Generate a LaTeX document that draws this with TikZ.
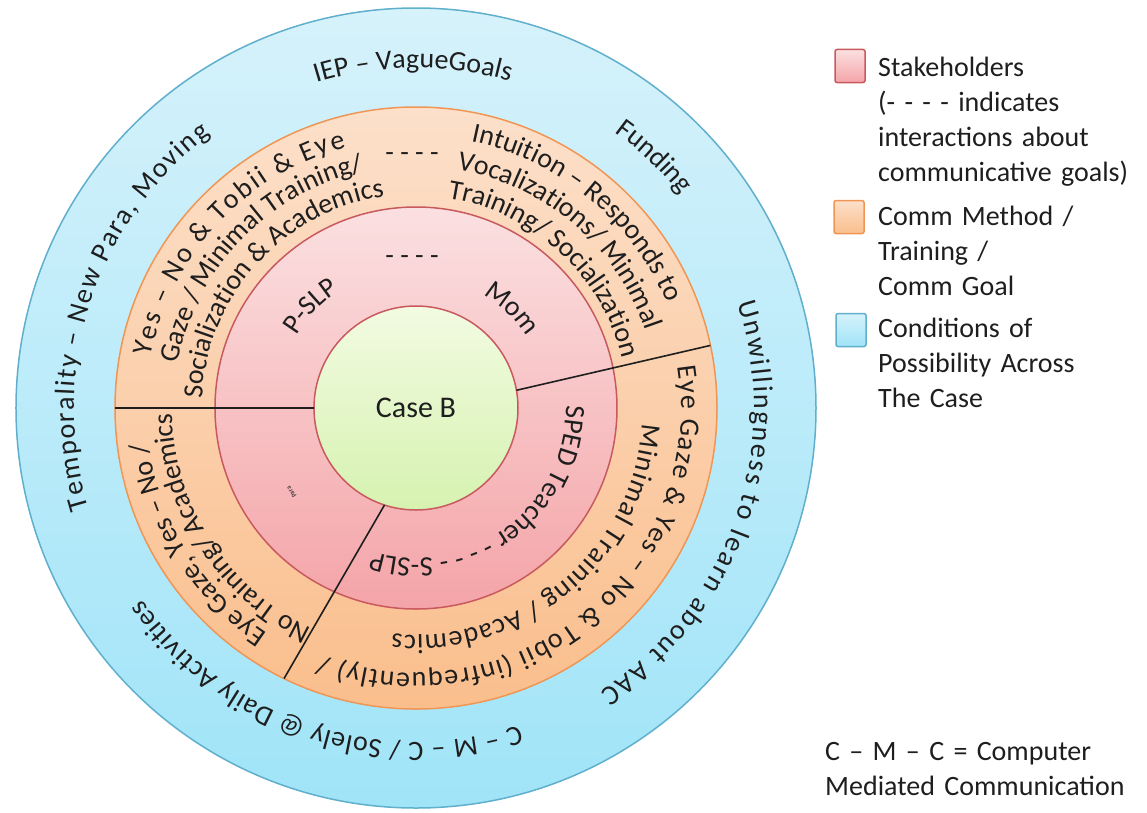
\documentclass[tikz,border=0pt]{standalone}
\usepackage{fontspec}
\setmainfont{Carlito}
\usetikzlibrary{positioning,decorations.text}

\definecolor{condtop}{RGB}{214,242,251}
\definecolor{condbot}{RGB}{160,228,248}
\definecolor{condline}{RGB}{95,175,205}
\definecolor{commtop}{RGB}{252,224,202}
\definecolor{commbot}{RGB}{250,190,140}
\definecolor{commline}{RGB}{240,150,85}
\definecolor{holdtop}{RGB}{251,224,225}
\definecolor{holdbot}{RGB}{244,164,168}
\definecolor{holdline}{RGB}{200,90,95}
\definecolor{casetop}{RGB}{242,251,226}
\definecolor{casebot}{RGB}{214,242,176}
\definecolor{ink}{RGB}{30,30,30}

\newcommand{\ringfont}{\fontsize{28}{34}\selectfont}
\newcommand{\parafont}{\fontsize{7}{8}\selectfont}

\begin{document}
\begin{tikzpicture}[x=1pt, y=1pt,
    ring/.style={circle, inner sep=0pt, outer sep=0pt, line width=1.5pt},
    divider/.style={line width=1.6pt, draw=ink},
    curved/.style={decorate, decoration={text along path, text align=center, text color=ink, text={|\ringfont|#1}}},
    fitted/.style={decorate, decoration={text along path, text align={fit to path}, text color=ink, text={|\ringfont|#1}}},
    keybox/.style={rounded corners=2pt, minimum width=30pt, minimum height=33pt, inner sep=0pt, line width=1.5pt},
    keytext/.style={anchor=base west, text width=265pt, align=left, inner sep=0pt, text=ink, font=\fontsize{28}{35}\selectfont}
  ]
  \useasboundingbox (-416,-404) rectangle (731,408);

  % rings
  \node[ring, minimum size=800pt, draw=condline, top color=condtop, bottom color=condbot] (cond) at (0,0) {};
  \node[ring, minimum size=602pt, draw=commline, top color=commtop, bottom color=commbot] (comm) at (0,0) {};
  \node[ring, minimum size=402pt, draw=holdline, top color=holdtop, bottom color=holdbot] (hold) at (0,0) {};
  \node[ring, minimum size=204pt, draw=holdline, top color=casetop, bottom color=casebot, text=ink, font=\fontsize{30}{36}\selectfont] (case) at (0,0) {Case B};

  \draw[divider] (case.180) -- (comm.180);
  \draw[divider] (case.10) -- (comm.12);
  \draw[divider] (case.-108) -- (comm.-116);

  % conditions of possibility
  \path[curved={IEP – VagueGoals}] (121:340pt) arc[start angle=121, end angle=60, radius=340pt];
  \path[curved={Funding}] (67:340pt) arc[start angle=67, end angle=26, radius=340pt];
  \path[fitted={Unwillingness to learn about AAC}] (18:338pt) arc[start angle=18, end angle=-57, radius=338pt];
  \path[fitted={C – M – C / Solely @ Daily Activities}] (-72:334pt) arc[start angle=-72, end angle=-145, radius=334pt];
  \path[fitted={Temporality – New Para, Moving}] (197:342pt) arc[start angle=197, end angle=127, radius=342pt];

  % comm method / training / goal
  \path[fitted={Yes – No {\&} Tobii {\&} Eye}] (169:270pt) arc[start angle=169, end angle=105, radius=270pt];
  \path[curved={Gaze / Minimal Training/}] (178:242pt) arc[start angle=178, end angle=94, radius=242pt];
  \path[curved={Socialization {\&} Academics}] (183:214pt) arc[start angle=183, end angle=93, radius=214pt];
  \path[curved={Intuition – Responds to}] (91:272pt) arc[start angle=91, end angle=10, radius=272pt];
  \path[curved={Vocalizations/ Minimal}] (90:242pt) arc[start angle=90, end angle=9, radius=242pt];
  \path[curved={Training/ Socialization}] (90:212pt) arc[start angle=90, end angle=5, radius=212pt];
  \path[fitted={Eye Gaze {\&} Yes – No {\&} Tobii (infrequently) /}] (9:265pt) arc[start angle=9, end angle=-111, radius=265pt];
  \path[fitted={Minimal Training / Academics}] (-4:227pt) arc[start angle=-4, end angle=-96, radius=227pt];
  \path[curved={Eye Gaze, Yes – No /}] (247:270pt) arc[start angle=247, end angle=177, radius=270pt];
  \path[curved={No Training/ Academics}] (253:244pt) arc[start angle=253, end angle=173, radius=244pt];
  \node[text=ink, font=\ringfont] (dashcomm) at (-4,251) {- - - -};

  % stakeholders
  \path[curved={P-SLP}] (161:140pt) arc[start angle=161, end angle=111, radius=140pt];
  \path[curved={Mom}] (71:132pt) arc[start angle=71, end angle=21, radius=132pt];
  \path[curved={SPED Teacher - - - - S-SLP}] (17:150pt) arc[start angle=17, end angle=-123, radius=150pt];
  \path[decorate, decoration={text along path, text align=center, text color=ink, text={|\parafont|Para}}] (229:148pt) arc[start angle=229, end angle=199, radius=148pt];
  \node[text=ink, font=\ringfont] (dashhold) at (-4,148) {- - - -};

  % legend
  \node[keybox, draw=holdline, top color=holdtop, bottom color=holdbot] (keyhold) at (434,342) {};
  \node[keybox, draw=commline, top color=commtop, bottom color=commbot] (keycomm) at (433,191) {};
  \node[keybox, draw=condline, top color=condtop, bottom color=condbot] (keycond) at (435,78) {};
  \node[keytext] (txthold) at (462,331) {Stakeholders\\(- - - - indicates\\interactions about\\communicative goals)};
  \node[keytext] (txtcomm) at (462,183) {Comm Method /\\Training /\\Comm Goal};
  \node[keytext] (txtcond) at (462,71) {Conditions of\\Possibility Across\\The Case};
  \node[keytext, text width=320pt] (cmcnote) at (409,-352) {C – M – C = Computer\\Mediated Communication};
\end{tikzpicture}
\end{document}
